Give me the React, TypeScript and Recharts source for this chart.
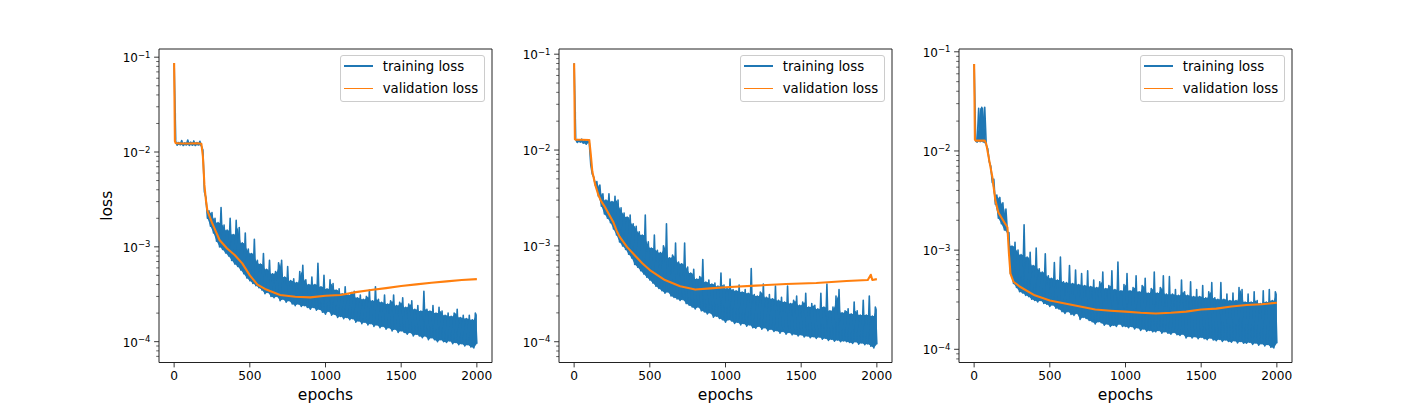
import React from "react";
import { ComposedChart, Line, Area, XAxis, YAxis, Legend } from "recharts";

const EPOCH_TICKS = [0, 500, 1000, 1500, 2000];
const DECADE_TICKS = [1e-4, 1e-3, 1e-2, 1e-1];
const MINOR_TICKS = [
  6e-5, 7e-5, 8e-5, 9e-5,
  2e-4, 3e-4, 4e-4, 5e-4, 6e-4, 7e-4, 8e-4, 9e-4,
  2e-3, 3e-3, 4e-3, 5e-3, 6e-3, 7e-3, 8e-3, 9e-3,
  2e-2, 3e-2, 4e-2, 5e-2, 6e-2, 7e-2, 8e-2, 9e-2,
];
const SERIES_NAMES = ["training loss", "validation loss"];
const SERIES_COLORS = ["#1f77b4", "#ff7f0e"];

// all loss values below are in units of 1e-5
// training loss: LOW at epochs 0, 20, ..., 2000 and HIGH at epochs 10, 30, ..., 1990
const TRAIN_STEP = 10;

// ---- panel 1 ----
const P1_TRAIN_LOW = [
  8670, 1180, 1190, 1170, 1185, 1175, 1180, 1170, 1185, 1160,
  380, 200, 165, 140, 115, 100, 94, 86, 80, 72,
  66, 62, 57, 52, 47, 44, 41, 39, 37, 35,
  32, 33, 30, 29, 30, 27, 28, 26, 27, 25,
  24, 25, 23.5, 24, 23, 22, 23, 21.5, 22, 20.5,
  19.5, 21, 19, 19.5, 18, 18.5, 17.5, 18, 17, 17.5,
  16, 16.5, 15.5, 16, 15, 15.5, 14.5, 15, 14, 14.5,
  13.5, 14, 13, 13.5, 12.5, 13, 12.5, 12, 12.5, 11.5,
  12, 11.5, 11, 11.5, 10.5, 11, 10.5, 10, 10.5, 10,
  9.8, 10.2, 9.5, 9.8, 9.3, 9.5, 9.0, 9.3, 8.8, 8.6,
  9.5,
];
const P1_TRAIN_HIGH = [
  1300, 1260, 1320, 1250, 1340, 1270, 1310, 1260, 1300, 1050,
  330, 240, 230, 200, 180, 260, 170, 150, 200, 135,
  190, 160, 110, 140, 95, 85, 120, 72, 66, 85,
  58, 72, 52, 55, 68, 72, 48, 62, 44, 46,
  42, 55, 64, 45, 40, 48, 40, 67, 38, 50,
  36, 45, 41, 35, 36, 32, 38, 31, 33, 34,
  29, 31, 28, 30, 35, 27, 38, 28, 26, 31,
  25, 27, 31, 24, 26, 29, 23, 25, 27, 22,
  24, 21, 34, 22, 21, 24, 20, 23, 21, 19,
  20, 18.5, 20, 22, 18, 19, 17.5, 19, 17, 20,
];
const P1_VAL_EPOCHS = [
  0, 5, 10, 50, 100, 150, 180, 190, 200, 210, 220, 250, 300, 350, 400, 450, 500,
  550, 600, 700, 800, 900, 1000, 1100, 1200, 1300, 1400, 1500, 1600, 1700, 1800, 1900, 2000,
];
const P1_VAL = [
  8670, 1300, 1240, 1230, 1230, 1235, 1220, 900, 450, 310, 240, 180, 118, 96, 82, 67, 50,
  40, 36, 31, 29.8, 29.3, 30.5, 31, 33.3, 35, 36.7, 38.6, 40.2, 41.8, 43.2, 44.7, 45.7,
];

// ---- panel 2 ----
const P2_TRAIN_LOW = [
  8050, 1200, 1210, 1180, 1150, 1190, 560, 430, 330, 260,
  215, 195, 175, 150, 130, 110, 100, 92, 82, 75,
  64, 60, 55, 51, 47, 44, 41, 38, 36, 34,
  32, 33, 30, 29, 28, 27, 27.5, 25, 24, 23,
  22, 23, 21, 20.5, 19.5, 20, 18, 18.5, 17.5, 17,
  16, 17, 16.5, 15.5, 16, 15, 15.5, 14.5, 15, 14,
  13.8, 14.5, 13.5, 14, 13, 13.5, 12.8, 13, 12.3, 12.8,
  12, 12.5, 11.8, 12, 11.5, 11.8, 11.2, 11.5, 11, 11.3,
  10.8, 11.2, 10.6, 10.9, 10.3, 10.6, 10.1, 10.4, 10, 10.2,
  10, 9.8, 9.6, 10, 9.4, 9.7, 9.3, 9.5, 9.0, 8.6,
  9.4,
];
const P2_TRAIN_HIGH = [
  1290, 1270, 1300, 1260, 1280, 700, 520, 470, 430, 350,
  300, 350, 290, 330, 300, 250, 220, 200, 210, 170,
  160, 140, 130, 210, 110, 95, 130, 90, 85, 100,
  170, 75, 80, 107, 68, 65, 107, 60, 52, 57,
  45, 48, 72, 42, 44, 40, 41, 38, 52, 39,
  36, 45, 35, 34, 39, 33, 35, 32, 58, 31,
  30, 33, 40, 29, 31, 28, 38, 27, 29, 26,
  38, 25, 27, 30, 24, 26, 32, 23, 25, 24,
  22, 32, 23, 40, 21, 23, 30, 35, 20, 21,
  22, 19.5, 26, 21, 19, 27, 19, 30, 18.5, 23,
];
const P2_VAL_EPOCHS = [
  0, 5, 10, 50, 100, 110, 120, 140, 160, 180, 200, 240, 260, 280, 300, 350,
  400, 450, 500, 600, 700, 800, 900, 1000, 1200, 1400, 1600, 1800, 1940, 1960, 1970, 2000,
];
const P2_VAL = [
  8050, 1300, 1280, 1280, 1275, 900, 600, 430, 340, 290, 260, 200, 175, 145, 125, 97,
  80, 66, 56, 44, 38, 35, 36, 37, 38.5, 40, 41, 43, 44, 50, 44, 45,
];

// ---- panel 3 ----
const P3_TRAIN_LOW = [
  7530, 1230, 1240, 1230, 1150, 780, 480, 290, 210, 185,
  160, 150, 58, 46, 42, 38, 37, 35, 34, 32,
  31, 30, 31, 29, 28.5, 27, 28, 26, 25.5, 24,
  23, 24, 22.5, 22, 23, 20, 21, 20.5, 19.5, 19,
  18, 19, 18.5, 17.5, 18, 17, 17.5, 17, 18, 17,
  17, 16.5, 17, 16, 16.5, 15.5, 16, 15.2, 15.5, 15,
  15, 15.5, 14.5, 15, 14.5, 14.2, 14.8, 14, 13.8, 14.2,
  13, 13.5, 13, 13.4, 12.8, 13.2, 12.8, 12.5, 13, 12.4,
  12.2, 12.6, 12, 12.4, 12, 11.8, 12.2, 11.6, 12, 11.5,
  11.5, 11.8, 11.2, 11.6, 11, 11.4, 10.8, 11.2, 10.5, 10.3,
  11.5,
];
const P3_TRAIN_HIGH = [
  1260, 2700, 2750, 2750, 1050, 700, 520, 360, 340, 300,
  260, 150, 110, 120, 100, 90, 180, 85, 95, 70,
  105, 65, 60, 92, 55, 52, 75, 50, 85, 48,
  47, 70, 46, 63, 45, 58, 44, 62, 43, 50,
  42, 48, 60, 41, 44, 62, 40, 76, 39, 45,
  58, 39, 42, 55, 38, 44, 52, 37, 41, 60,
  37, 42, 55, 36, 54, 36, 40, 35, 50, 38,
  35, 48, 34, 40, 34, 44, 33, 38, 47, 33,
  32, 47, 32, 36, 31, 37, 31, 42, 40, 30,
  36, 30, 38, 31, 29, 39, 30, 40, 31, 38,
];
const P3_VAL_EPOCHS = [
  0, 5, 10, 70, 80, 100, 120, 140, 160, 200, 220, 230, 240, 260, 300, 400,
  500, 600, 700, 800, 900, 1000, 1100, 1200, 1300, 1400, 1500, 1600, 1700, 1800, 1900, 2000,
];
const P3_VAL = [
  7530, 1300, 1270, 1270, 1180, 800, 550, 320, 240, 190, 170, 92, 58, 48, 43, 35,
  31, 29, 27, 25.2, 24.5, 24, 23.4, 23, 23.4, 24, 25.2, 25.7, 27, 28, 28.5, 29.5,
];

// y-axis limits of each panel (log scale)
const P1_Y_DOMAIN = [6.03e-5, 0.122];
const P2_Y_DOMAIN = [6.07e-5, 0.1133];
const P3_Y_DOMAIN = [7.36e-5, 0.1067];

const UNIT = 1e-5;
const FONT = "'DejaVu Sans', sans-serif";
const SPINE = { stroke: "#222", strokeWidth: 1 };

// zigzag through the low and high samples of the training loss
function trainRows(low: number[], high: number[]) {
  const rows: { epoch: number; loss: number }[] = [];
  low.forEach((v, i) => {
    rows.push({ epoch: i * 2 * TRAIN_STEP, loss: v * UNIT });
    if (i < high.length) rows.push({ epoch: (i * 2 + 1) * TRAIN_STEP, loss: high[i] * UNIT });
  });
  return rows;
}

// dense core of the noisy band: from each low sample up to the lower of its two neighbouring highs
function bandRows(low: number[], high: number[]) {
  return low.map((v, i) => {
    const nb = [high[i - 1], high[i]].filter((h) => h !== undefined);
    const top = Math.max(v, Math.min(...nb));
    return { epoch: i * 2 * TRAIN_STEP, band: [v * UNIT, top * UNIT] };
  });
}

function valRows(epochs: number[], values: number[]) {
  return epochs.map((e, i) => ({ epoch: e, loss: values[i] * UNIT }));
}

const PANELS = [
  { left: 158.5, low: P1_TRAIN_LOW, high: P1_TRAIN_HIGH, val: valRows(P1_VAL_EPOCHS, P1_VAL), yDomain: P1_Y_DOMAIN, yLabel: true },
  { left: 558.5, low: P2_TRAIN_LOW, high: P2_TRAIN_HIGH, val: valRows(P2_VAL_EPOCHS, P2_VAL), yDomain: P2_Y_DOMAIN, yLabel: false },
  { left: 958.5, low: P3_TRAIN_LOW, high: P3_TRAIN_HIGH, val: valRows(P3_VAL_EPOCHS, P3_VAL), yDomain: P3_Y_DOMAIN, yLabel: false },
];

const Y_AXIS_W = 60;
const PLOT_W = 333;

const EpochTick = (props: any) => {
  const { x, y, payload } = props;
  return (
    <g>
      <line x1={x} x2={x} y1={y} y2={y + 4.9} stroke="#222" strokeWidth={0.9} />
      <text x={x} y={y + 17} textAnchor="middle" fontSize={12.2} fontFamily={FONT} fill="#000">
        {payload.value}
      </text>
    </g>
  );
};

const LossTick = (props: any) => {
  const { x, y, payload } = props;
  const v = payload.value;
  if (!DECADE_TICKS.includes(v)) {
    return <line x1={x} x2={x - 2.8} y1={y} y2={y} stroke="#222" strokeWidth={0.7} />;
  }
  const exp = Math.round(Math.log10(v));
  return (
    <g>
      <line x1={x} x2={x - 4.9} y1={y} y2={y} stroke="#222" strokeWidth={0.9} />
      <text x={x - 8.5} y={y + 5} textAnchor="end" fontSize={12} fontFamily={FONT} fill="#000">
        10
        <tspan dy={-4.5} fontSize={8.5}>{`\u2212${-exp}`}</tspan>
      </text>
    </g>
  );
};

function LegendBox() {
  return (
    <div
      style={{
        position: "relative",
        width: 145,
        height: 47,
        boxSizing: "border-box",
        border: "1px solid #cccccc",
        borderRadius: 3,
        background: "rgba(255,255,255,0.8)",
        fontFamily: FONT,
      }}
    >
      {SERIES_NAMES.map((name, i) => (
        <React.Fragment key={name}>
          <div
            style={{
              position: "absolute",
              left: 3,
              top: 9.25 + 22.3 * i,
              width: 29,
              height: 1.6,
              background: SERIES_COLORS[i],
            }}
          />
          <div
            style={{
              position: "absolute",
              left: 41.7,
              top: 3.1 + 22.3 * i,
              fontSize: 13.3,
              lineHeight: "16px",
              whiteSpace: "nowrap",
              color: "#000",
            }}
          >
            {name}
          </div>
        </React.Fragment>
      ))}
    </div>
  );
}

function LossPanel({ left, low, high, val, yDomain, yLabel }: any) {
  const yTicks = [...DECADE_TICKS, ...MINOR_TICKS].filter((t) => t >= yDomain[0] && t <= yDomain[1]);
  const chartLeft = left - Y_AXIS_W;
  const train = trainRows(low, high);
  const band = bandRows(low, high);
  return (
    <div style={{ position: "absolute", left: chartLeft, top: 0 }}>
      <ComposedChart width={Y_AXIS_W + PLOT_W + 20} height={406} margin={{ top: 39, right: 10, bottom: 8.5, left: 0 }}>
        <XAxis
          xAxisId="b"
          type="number"
          dataKey="epoch"
          domain={[-100, 2100]}
          allowDataOverflow
          ticks={EPOCH_TICKS}
          interval={0}
          height={35}
          tickSize={0}
          tickMargin={0}
          tickLine={false}
          tick={<EpochTick />}
          axisLine={SPINE}
          label={(p: any) => {
            const vb = p.viewBox;
            return (
              <text x={vb.x + vb.width / 2} y={vb.y + 37.5} textAnchor="middle" fontSize={15.5} fontFamily={FONT} fill="#000">
                epochs
              </text>
            );
          }}
        />
        <XAxis
          xAxisId="t"
          orientation="top"
          type="number"
          domain={[-100, 2100]}
          allowDataOverflow
          height={10}
          tick={false}
          tickLine={false}
          axisLine={SPINE}
        />
        <YAxis
          yAxisId="l"
          type="number"
          scale="log"
          domain={yDomain}
          allowDataOverflow
          ticks={yTicks}
          interval={0}
          width={Y_AXIS_W}
          tickSize={0}
          tickMargin={0}
          tickLine={false}
          tick={<LossTick />}
          axisLine={SPINE}
          label={
            yLabel
              ? (p: any) => {
                  const vb = p.viewBox;
                  const cx = vb.x + 12.5;
                  const cy = vb.y + vb.height / 2;
                  return (
                    <text
                      x={cx}
                      y={cy}
                      transform={`rotate(-90, ${cx}, ${cy})`}
                      textAnchor="middle"
                      fontSize={15.5}
                      fontFamily={FONT}
                      fill="#000"
                    >
                      loss
                    </text>
                  );
                }
              : undefined
          }
        />
        <YAxis
          yAxisId="r"
          orientation="right"
          type="number"
          scale="log"
          domain={yDomain}
          allowDataOverflow
          width={10}
          tick={false}
          tickLine={false}
          axisLine={SPINE}
        />
        <Area
          xAxisId="b"
          yAxisId="l"
          data={band}
          dataKey="band"
          type="linear"
          stroke="none"
          fill={SERIES_COLORS[0]}
          fillOpacity={1}
          dot={false}
          activeDot={false}
          legendType="none"
          isAnimationActive={false}
        />
        <Line
          xAxisId="b"
          yAxisId="l"
          data={train}
          dataKey="loss"
          name={SERIES_NAMES[0]}
          type="linear"
          stroke={SERIES_COLORS[0]}
          strokeWidth={1.6}
          strokeLinejoin="round"
          dot={false}
          activeDot={false}
          isAnimationActive={false}
        />
        <Line
          xAxisId="b"
          yAxisId="l"
          data={val}
          dataKey="loss"
          name={SERIES_NAMES[1]}
          type="linear"
          stroke={SERIES_COLORS[1]}
          strokeWidth={2.1}
          strokeLinejoin="round"
          dot={false}
          activeDot={false}
          isAnimationActive={false}
        />
        <Legend
          layout="horizontal"
          align="center"
          verticalAlign="middle"
          content={() => <LegendBox />}
          wrapperStyle={{ left: left + 181.5 - chartLeft, top: 55, width: 145, height: 47, margin: 0 }}
        />
      </ComposedChart>
    </div>
  );
}

export default function App() {
  return (
    <div
      style={{
        position: "absolute",
        left: 0,
        top: 0,
        width: 1413,
        height: 406,
        background: "#fff",
        fontFamily: FONT,
      }}
    >
      {PANELS.map((p, i) => (
        <LossPanel key={i} {...p} />
      ))}
    </div>
  );
}
